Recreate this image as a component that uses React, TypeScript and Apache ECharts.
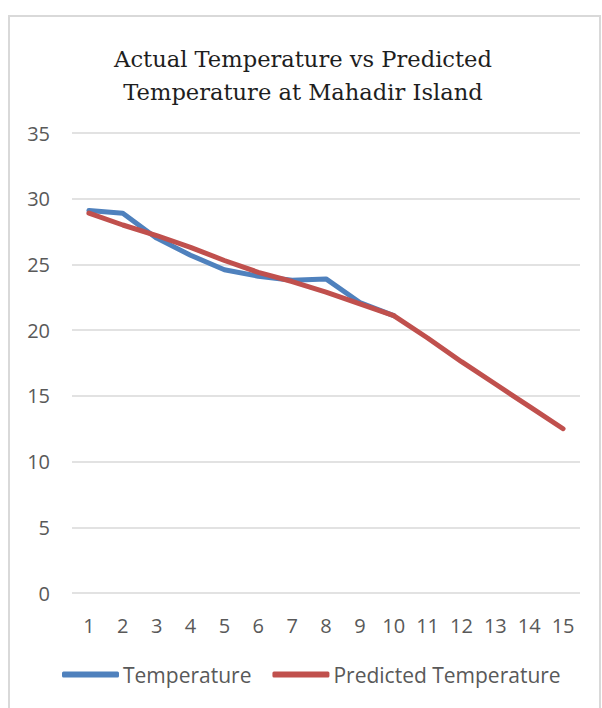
import React, { useEffect, useRef } from "react";
import * as echarts from "echarts";

const categories = ["1", "2", "3", "4", "5", "6", "7", "8", "9", "10", "11", "12", "13", "14", "15"];
const temperature = [29.1, 28.9, 27.0, 25.7, 24.6, 24.1, 23.8, 23.9, 22.1, 21.1];
const predicted = [28.9, 28.0, 27.2, 26.3, 25.3, 24.4, 23.7, 22.9, 22.0, 21.1, 19.4, 17.6, 15.9, 14.2, 12.5];
const yTicks = [0, 5, 10, 15, 20, 25, 30, 35];

export default function App() {
  const ref = useRef<HTMLDivElement>(null);
  useEffect(() => {
    if (!ref.current) return;
    const chart = echarts.init(ref.current, undefined, { renderer: "svg" });
    const labelFont = "'Open Sans', 'Liberation Sans', sans-serif";
    chart.setOption({
      animation: false,
      backgroundColor: "#ffffff",
      graphic: [
        {
          type: "rect",
          shape: { x: 9, y: 16, width: 591, height: 720 },
          style: { fill: "none", stroke: "#d9d9d9", lineWidth: 2 },
          silent: true,
        },
      ],
      title: {
        text: "Actual Temperature vs Predicted\nTemperature at Mahadir Island",
        left: 298,
        textAlign: "center",
        top: 37,
        textStyle: {
          fontFamily: "'DejaVu Serif', 'Liberation Serif', serif",
          fontSize: 22.6,
          fontWeight: "normal",
          color: "#1e1e1e",
          lineHeight: 33,
        },
      },
      legend: {
        bottom: 18,
        left: 57,
        itemWidth: 57,
        itemHeight: 6,
        itemGap: 21,
        icon: "roundRect",
        textStyle: { fontFamily: labelFont, fontSize: 21, color: "#595959", padding: [0, 0, 0, -1] },
        data: ["Temperature", "Predicted Temperature"],
      },
      grid: { left: 72, right: 22, top: 133, bottom: 115, containLabel: false },
      xAxis: {
        type: "category",
        data: categories,
        boundaryGap: true,
        axisLine: { show: false },
        axisTick: { show: false },
        axisLabel: { margin: 22, fontFamily: labelFont, fontSize: 20, color: "#595959" },
      },
      yAxis: {
        type: "value",
        min: yTicks[0],
        max: yTicks[yTicks.length - 1],
        interval: 5,
        axisLine: { show: false },
        axisTick: { show: false },
        axisLabel: { margin: 22, fontFamily: labelFont, fontSize: 20, color: "#595959" },
        splitLine: { lineStyle: { color: "#d9d9d9", width: 1.5 } },
      },
      series: [
        {
          name: "Temperature",
          type: "line",
          data: temperature,
          symbol: "none",
          color: "#4f81bd",
          lineStyle: { width: 5, color: "#4f81bd", cap: "round", join: "round" },
        },
        {
          name: "Predicted Temperature",
          type: "line",
          data: predicted,
          symbol: "none",
          color: "#c0504d",
          lineStyle: { width: 5, color: "#c0504d", cap: "round", join: "round" },
        },
      ],
    });
    return () => chart.dispose();
  }, []);
  return (
    <div style={{ position: "absolute", left: 0, top: 0, width: 602, height: 708, background: "#fff" }}>
      <div ref={ref} style={{ width: 602, height: 708 }} />
    </div>
  );
}
